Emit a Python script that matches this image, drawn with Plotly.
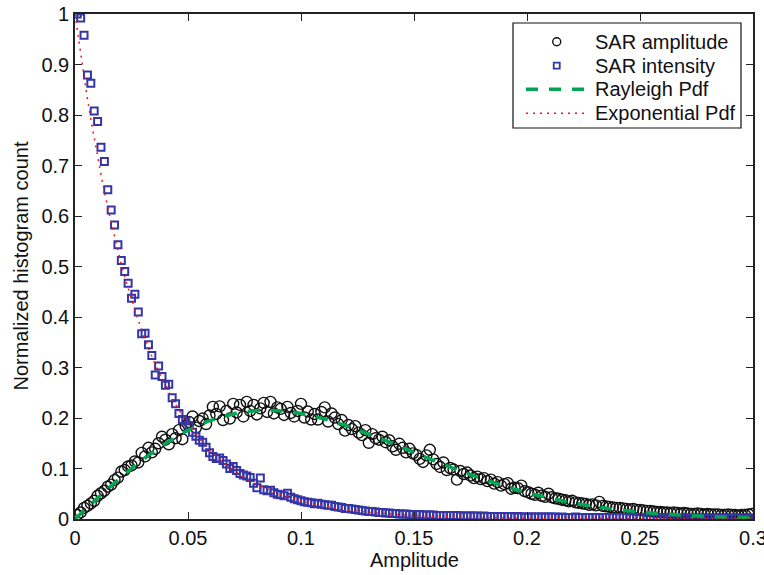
import plotly.graph_objects as go

# Bin centres shared by both histograms
BIN_X = [
    0.001, 0.0025, 0.004, 0.0055, 0.007, 0.0085, 0.01, 0.0115, 0.013, 0.0145,
    0.016, 0.0175, 0.019, 0.0205, 0.022, 0.0235, 0.025, 0.0265, 0.028, 0.0295,
    0.031, 0.0325, 0.034, 0.0355, 0.037, 0.0385, 0.04, 0.0415, 0.043, 0.0445,
    0.046, 0.0475, 0.049, 0.0505, 0.052, 0.0535, 0.055, 0.0565, 0.058, 0.0595,
    0.061, 0.0625, 0.064, 0.0655, 0.067, 0.0685, 0.07, 0.0715, 0.073, 0.0745,
    0.076, 0.0775, 0.079, 0.0805, 0.082, 0.0835, 0.085, 0.0865, 0.088, 0.0895,
    0.091, 0.0925, 0.094, 0.0955, 0.097, 0.0985, 0.1, 0.1015, 0.103, 0.1045,
    0.106, 0.1075, 0.109, 0.1105, 0.112, 0.1135, 0.115, 0.1165, 0.118, 0.1195,
    0.121, 0.1225, 0.124, 0.1255, 0.127, 0.1285, 0.13, 0.1315, 0.133, 0.1345,
    0.136, 0.1375, 0.139, 0.1405, 0.142, 0.1435, 0.145, 0.1465, 0.148, 0.1495,
    0.151, 0.1525, 0.154, 0.1555, 0.157, 0.1585, 0.16, 0.1615, 0.163, 0.1645,
    0.166, 0.1675, 0.169, 0.1705, 0.172, 0.1735, 0.175, 0.1765, 0.178, 0.1795,
    0.181, 0.1825, 0.184, 0.1855, 0.187, 0.1885, 0.19, 0.1915, 0.193, 0.1945,
    0.196, 0.1975, 0.199, 0.2005, 0.202, 0.2035, 0.205, 0.2065, 0.208, 0.2095,
    0.211, 0.2125, 0.214, 0.2155, 0.217, 0.2185, 0.22, 0.2215, 0.223, 0.2245,
    0.226, 0.2275, 0.229, 0.2305, 0.232, 0.2335, 0.235, 0.2365, 0.238, 0.2395,
    0.241, 0.2425, 0.244, 0.2455, 0.247, 0.2485, 0.25, 0.2515, 0.253, 0.2545,
    0.256, 0.2575, 0.259, 0.2605, 0.262, 0.2635, 0.265, 0.2665, 0.268, 0.2695,
    0.271, 0.2725, 0.274, 0.2755, 0.277, 0.2785, 0.28, 0.2815, 0.283, 0.2845,
    0.286, 0.2875, 0.289, 0.2905, 0.292, 0.2935, 0.295, 0.2965, 0.298, 0.2995,
]

SAR_AMPLITUDE = [
    0.008, 0.013, 0.022, 0.026, 0.031, 0.036, 0.046, 0.051, 0.056, 0.064,
    0.068, 0.077, 0.082, 0.094, 0.097, 0.104, 0.106, 0.114, 0.112, 0.131,
    0.124, 0.141, 0.132, 0.139, 0.150, 0.163, 0.157, 0.148, 0.168, 0.160,
    0.176, 0.158, 0.184, 0.192, 0.203, 0.181, 0.194, 0.199, 0.188, 0.205,
    0.222, 0.208, 0.223, 0.196, 0.214, 0.199, 0.228, 0.211, 0.226, 0.203,
    0.232, 0.214, 0.226, 0.207, 0.219, 0.230, 0.212, 0.232, 0.209, 0.221,
    0.218, 0.206, 0.222, 0.210, 0.203, 0.214, 0.228, 0.201, 0.213, 0.197,
    0.208, 0.197, 0.212, 0.221, 0.193, 0.209, 0.201, 0.188, 0.196, 0.175,
    0.186, 0.178, 0.184, 0.171, 0.166, 0.176, 0.151, 0.168, 0.160, 0.157,
    0.163, 0.152, 0.156, 0.144, 0.137, 0.149, 0.141, 0.132, 0.139, 0.130,
    0.127, 0.119, 0.113, 0.126, 0.137, 0.118, 0.109, 0.103, 0.112, 0.097,
    0.101, 0.098, 0.078, 0.095, 0.089, 0.092, 0.086, 0.081, 0.084, 0.079,
    0.081, 0.075, 0.078, 0.070, 0.073, 0.066, 0.069, 0.071, 0.060, 0.062,
    0.061, 0.066, 0.055, 0.053, 0.050, 0.048, 0.052, 0.046, 0.044, 0.050,
    0.043, 0.041, 0.040, 0.038, 0.037, 0.035, 0.036, 0.033, 0.032, 0.031,
    0.030, 0.028, 0.029, 0.027, 0.034, 0.026, 0.025, 0.024, 0.023, 0.022,
    0.022, 0.021, 0.020, 0.019, 0.020, 0.018, 0.018, 0.017, 0.016, 0.016,
    0.015, 0.014, 0.014, 0.013, 0.013, 0.012, 0.013, 0.012, 0.011, 0.012,
    0.011, 0.010, 0.010, 0.011, 0.010, 0.009, 0.010, 0.009, 0.009, 0.009,
    0.008, 0.008, 0.009, 0.008, 0.008, 0.007, 0.008, 0.008, 0.009, 0.010,
]

SAR_INTENSITY = [
    1.000, 0.992, 0.958, 0.879, 0.863, 0.808, 0.787, 0.736, 0.708, 0.652,
    0.612, 0.582, 0.543, 0.512, 0.490, 0.467, 0.437, 0.445, 0.410, 0.367,
    0.368, 0.345, 0.324, 0.285, 0.303, 0.282, 0.265, 0.267, 0.240, 0.228,
    0.209, 0.197, 0.194, 0.185, 0.172, 0.164, 0.156, 0.152, 0.142, 0.131,
    0.124, 0.120, 0.121, 0.116, 0.109, 0.100, 0.104, 0.096, 0.090, 0.087,
    0.085, 0.082, 0.071, 0.062, 0.081, 0.058, 0.056, 0.057, 0.052, 0.049,
    0.048, 0.046, 0.051, 0.043, 0.040, 0.038, 0.036, 0.034, 0.033, 0.032,
    0.030, 0.031, 0.029, 0.028, 0.027, 0.027, 0.025, 0.024, 0.023, 0.021,
    0.021, 0.020, 0.019, 0.018, 0.017, 0.016, 0.015, 0.015, 0.014, 0.013,
    0.013, 0.012, 0.012, 0.011, 0.011, 0.010, 0.010, 0.010, 0.009, 0.009,
    0.009, 0.009, 0.008, 0.008, 0.008, 0.008, 0.007, 0.007, 0.007, 0.007,
    0.007, 0.007, 0.007, 0.006, 0.006, 0.006, 0.006, 0.006, 0.006, 0.005,
    0.006, 0.005, 0.005, 0.005, 0.005, 0.005, 0.005, 0.005, 0.005, 0.004,
    0.005, 0.004, 0.004, 0.004, 0.004, 0.004, 0.004, 0.004, 0.004, 0.004,
    0.004, 0.004, 0.003, 0.004, 0.003, 0.003, 0.003, 0.004, 0.003, 0.003,
    0.003, 0.003, 0.003, 0.003, 0.003, 0.003, 0.003, 0.003, 0.003, 0.003,
    0.003, 0.003, 0.003, 0.002, 0.003, 0.003, 0.002, 0.003, 0.002, 0.003,
    0.002, 0.003, 0.002, 0.002, 0.003, 0.002, 0.002, 0.002, 0.002, 0.002,
    0.002, 0.002, 0.002, 0.002, 0.002, 0.002, 0.002, 0.002, 0.002, 0.002,
    0.002, 0.002, 0.002, 0.002, 0.002, 0.002, 0.002, 0.002, 0.002, 0.002,
]

RAYLEIGH_X = [
    0.0, 0.01, 0.02, 0.03, 0.04, 0.05, 0.06, 0.07, 0.08, 0.09, 0.10,
    0.11, 0.12, 0.13, 0.14, 0.15, 0.16, 0.17, 0.18, 0.19, 0.20,
    0.21, 0.22, 0.23, 0.24, 0.25, 0.26, 0.27, 0.28, 0.29, 0.30,
]
RAYLEIGH_Y = [
    0.0, 0.0414, 0.0811, 0.1176, 0.1493, 0.1754, 0.1951, 0.2080, 0.2142, 0.2144, 0.2088,
    0.1985, 0.1845, 0.1682, 0.1507, 0.1316, 0.1134, 0.0960, 0.0799, 0.0651, 0.0523,
    0.0414, 0.0322, 0.0247, 0.0186, 0.0138, 0.0101, 0.0073, 0.0051, 0.0036, 0.0025,
]

EXPONENTIAL_X = [
    0.0, 0.0025, 0.005, 0.0075, 0.01, 0.0125, 0.015, 0.0175, 0.02, 0.0225,
    0.025, 0.0275, 0.03, 0.0325, 0.035, 0.0375, 0.04, 0.0425, 0.045, 0.0475,
    0.05, 0.055, 0.06, 0.065, 0.07, 0.075, 0.08, 0.09, 0.10, 0.11,
    0.12, 0.13, 0.14, 0.15, 0.16, 0.17, 0.18, 0.19, 0.20, 0.22,
    0.24, 0.26, 0.28, 0.30,
]
EXPONENTIAL_Y = [
    1.000, 0.920, 0.846, 0.779, 0.717, 0.659, 0.607, 0.558, 0.513, 0.472,
    0.435, 0.400, 0.368, 0.339, 0.311, 0.287, 0.264, 0.243, 0.223, 0.205,
    0.189, 0.160, 0.135, 0.115, 0.097, 0.082, 0.0695, 0.0498, 0.0357, 0.0256,
    0.0183, 0.0131, 0.0094, 0.0067, 0.0048, 0.0035, 0.0025, 0.0018, 0.0013, 0.0007,
    0.0003, 0.0002, 0.0001, 0.00005,
]

SERIES_NAMES = ["SAR amplitude", "SAR intensity", "Rayleigh Pdf", "Exponential Pdf"]
X_TITLE = "Amplitude"
Y_TITLE = "Normalized histogram count"

X_TICKS = [0, 0.05, 0.1, 0.15, 0.2, 0.25, 0.3]
X_TICK_TEXT = ["0", "0.05", "0.1", "0.15", "0.2", "0.25", "0.3"]
Y_TICKS = [0, 0.1, 0.2, 0.3, 0.4, 0.5, 0.6, 0.7, 0.8, 0.9, 1.0]
Y_TICK_TEXT = ["0", "0.1", "0.2", "0.3", "0.4", "0.5", "0.6", "0.7", "0.8", "0.9", "1"]

FONT = "Liberation Sans, Arial, Helvetica, sans-serif"
AXIS_COLOR = "#222222"
TEXT_COLOR = "#111111"
AMP_COLOR = "#111111"
INT_COLOR = "#3535a5"
RAY_COLOR = "#00a651"
EXP_COLOR = "#ff1010"
RAY_DASH = "12px,11px"
EXP_DASH = "2px,5px"

fig = go.Figure()
fig.add_trace(go.Scatter(
    x=BIN_X, y=SAR_AMPLITUDE, mode="markers", name=SERIES_NAMES[0],
    marker=dict(symbol="circle-open", size=11, color=AMP_COLOR, line=dict(width=1.4, color=AMP_COLOR)),
))
fig.add_trace(go.Scatter(
    x=BIN_X, y=SAR_INTENSITY, mode="markers", name=SERIES_NAMES[1],
    marker=dict(symbol="square-open", size=7, color=INT_COLOR, line=dict(width=2, color=INT_COLOR)),
))
fig.add_trace(go.Scatter(
    x=RAYLEIGH_X, y=RAYLEIGH_Y, mode="lines", name=SERIES_NAMES[2],
    line=dict(color=RAY_COLOR, width=3.5, dash=RAY_DASH, shape="spline"),
))
fig.add_trace(go.Scatter(
    x=EXPONENTIAL_X, y=EXPONENTIAL_Y, mode="lines", name=SERIES_NAMES[3],
    line=dict(color=EXP_COLOR, width=1.5, dash=EXP_DASH),
))

# ---- MATLAB-style legend box (drawn in paper coordinates) ----
LEG_X0, LEG_X1, LEG_Y0, LEG_Y1 = 0.646, 0.9823, 0.7743, 0.9822
ROW_Y = [0.9451, 0.8976, 0.8509, 0.8034]
SYM_X0, SYM_X1, SYM_XC, TEXT_X = 0.6652, 0.7552, 0.7105, 0.764

shapes = [
    dict(type="rect", xref="paper", yref="paper", x0=LEG_X0, x1=LEG_X1, y0=LEG_Y0, y1=LEG_Y1,
         line=dict(color=TEXT_COLOR, width=1.2), fillcolor="white", layer="above"),
    dict(type="circle", xref="paper", yref="paper", xsizemode="pixel", ysizemode="pixel",
         xanchor=SYM_XC, yanchor=ROW_Y[0], x0=-4, x1=4, y0=-4, y1=4,
         line=dict(color=AMP_COLOR, width=1.4), layer="above"),
    dict(type="rect", xref="paper", yref="paper", xsizemode="pixel", ysizemode="pixel",
         xanchor=SYM_XC, yanchor=ROW_Y[1], x0=-3, x1=3, y0=-3, y1=3,
         line=dict(color=INT_COLOR, width=1.8), layer="above"),
    dict(type="line", xref="paper", yref="paper", x0=SYM_X0, x1=SYM_X1, y0=ROW_Y[2], y1=ROW_Y[2],
         line=dict(color=RAY_COLOR, width=3.5, dash=RAY_DASH), layer="above"),
    dict(type="line", xref="paper", yref="paper", x0=SYM_X0, x1=SYM_X1, y0=ROW_Y[3], y1=ROW_Y[3],
         line=dict(color=EXP_COLOR, width=1.5, dash=EXP_DASH), layer="above"),
]
annotations = [
    dict(xref="paper", yref="paper", x=TEXT_X, y=yv, text=name, showarrow=False,
         xanchor="left", yanchor="middle", font=dict(family=FONT, size=20, color=TEXT_COLOR))
    for name, yv in zip(SERIES_NAMES, ROW_Y)
]
# axis titles placed precisely
annotations.append(dict(xref="paper", yref="paper", x=-0.0811, y=0.5, text=Y_TITLE, showarrow=False,
                        textangle=-90, xanchor="center", yanchor="middle",
                        font=dict(family=FONT, size=20, color=TEXT_COLOR)))
annotations.append(dict(xref="paper", yref="paper", x=0.5, y=-0.0813, text=X_TITLE, showarrow=False,
                        xanchor="center", yanchor="middle",
                        font=dict(family=FONT, size=20, color=TEXT_COLOR)))

axis_common = dict(
    showgrid=False, zeroline=False, showline=True, linecolor=AXIS_COLOR, linewidth=1.6,
    mirror="ticks", ticks="inside", ticklen=7, tickwidth=1, tickcolor=AXIS_COLOR,
    tickfont=dict(family=FONT, size=20, color=TEXT_COLOR), automargin=False,
    ticklabeloverflow="allow",
)

fig.update_layout(
    width=764, height=575,
    margin=dict(l=75, r=11, t=14, b=56, autoexpand=False),
    paper_bgcolor="white", plot_bgcolor="white",
    font=dict(family=FONT, size=20, color=TEXT_COLOR),
    showlegend=False,
    shapes=shapes,
    annotations=annotations,
    xaxis=dict(range=[0, 0.3], tickvals=X_TICKS, ticktext=X_TICK_TEXT, **axis_common),
    yaxis=dict(range=[0, 1], tickvals=Y_TICKS, ticktext=Y_TICK_TEXT, **axis_common),
)

fig.write_html("out.html", config={"displayModeBar": False},
               post_script="document.body.style.margin='0';")
